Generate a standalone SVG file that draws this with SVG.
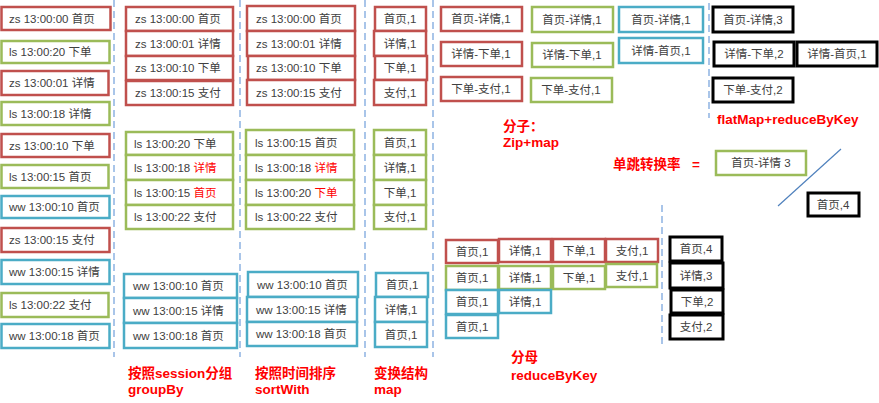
<svg xmlns="http://www.w3.org/2000/svg" width="879" height="403" viewBox="0 0 879 403">
<style>
rect{fill:#fff;stroke-width:2.5}
.r{stroke:#c0504d}.g{stroke:#9bbb59}.b{stroke:#4bacc6}.k{stroke:#000;stroke-width:3}
text{font-family:"Liberation Sans","Noto Sans CJK SC",sans-serif;font-size:11.5px;fill:#404040}
.m{text-anchor:middle}
.hl{fill:#ff0000}
.lab{fill:#ff0000;font-weight:bold;font-size:13.5px}
.dash{stroke:#8db3e2;stroke-width:1.5;stroke-dasharray:7,4;fill:none}
</style>
<g id="connectors">
<line class="dash" x1="114" y1="0" x2="114" y2="357"/>
<line class="dash" x1="240" y1="0" x2="240" y2="357"/>
<line class="dash" x1="365" y1="0" x2="365" y2="357"/>
<line class="dash" x1="433" y1="0" x2="433" y2="357"/>
<line class="dash" x1="709" y1="3" x2="709" y2="118"/>
<line class="dash" x1="662" y1="205" x2="662" y2="345"/>
<line x1="841" y1="149" x2="778" y2="206" stroke="#4f81bd" stroke-width="1.2"/>
</g>
<!-- column 1 -->
<g id="c1n1"><rect class="r" x="1.5" y="7" width="109" height="23"/><text x="9" y="23">zs 13:00:00 首页</text></g>
<g id="c1n2"><rect class="g" x="1.5" y="41" width="108" height="22"/><text x="9" y="56">ls 13:00:20 下单</text></g>
<g id="c1n3"><rect class="r" x="1.5" y="71" width="107" height="24"/><text x="9" y="87">zs 13:00:01 详情</text></g>
<g id="c1n4"><rect class="g" x="1.5" y="102" width="108" height="23"/><text x="9" y="118">ls 13:00:18 详情</text></g>
<g id="c1n5"><rect class="r" x="1.5" y="134" width="108" height="23"/><text x="9" y="150">zs 13:00:10 下单</text></g>
<g id="c1n6"><rect class="g" x="1.5" y="165" width="107" height="23"/><text x="9" y="181">ls 13:00:15 首页</text></g>
<g id="c1n7"><rect class="b" x="1.5" y="196" width="108" height="22"/><text x="9" y="211">ww 13:00:10 首页</text></g>
<g id="c1n8"><rect class="r" x="1.5" y="228" width="108" height="24"/><text x="9" y="244">zs 13:00:15 支付</text></g>
<g id="c1n9"><rect class="b" x="1.5" y="260" width="108" height="24"/><text x="9" y="276">ww 13:00:15 详情</text></g>
<g id="c1n10"><rect class="g" x="1.5" y="293" width="107" height="24"/><text x="9" y="309">ls 13:00:22 支付</text></g>
<g id="c1n11"><rect class="b" x="1.5" y="324" width="108" height="24"/><text x="9" y="340">ww 13:00:18 首页</text></g>
<!-- column 2 -->
<g id="c2n1"><rect class="r" x="126" y="7" width="107" height="24"/><text x="135" y="23">zs 13:00:00 首页</text></g>
<g id="c2n2"><rect class="r" x="126" y="31" width="107" height="25"/><text x="135" y="48">zs 13:00:01 详情</text></g>
<g id="c2n3"><rect class="r" x="126" y="56" width="107" height="24"/><text x="135" y="72">zs 13:00:10 下单</text></g>
<g id="c2n4"><rect class="r" x="126" y="81" width="107" height="24"/><text x="135" y="97">zs 13:00:15 支付</text></g>
<g id="c2n5"><rect class="g" x="126" y="132" width="107" height="23"/><text x="134" y="148">ls 13:00:20 下单</text></g>
<g id="c2n6"><rect class="g" x="126" y="155" width="107" height="25"/><text x="134" y="172">ls 13:00:18 <tspan class="hl">详情</tspan></text></g>
<g id="c2n7"><rect class="g" x="126" y="180" width="107" height="25"/><text x="134" y="197">ls 13:00:15 <tspan class="hl">首页</tspan></text></g>
<g id="c2n8"><rect class="g" x="126" y="205" width="107" height="24"/><text x="134" y="221">ls 13:00:22 支付</text></g>
<g id="c2n9"><rect class="b" x="124" y="274" width="113" height="24"/><text x="133" y="290">ww 13:00:10 首页</text></g>
<g id="c2n10"><rect class="b" x="124" y="298" width="113" height="25"/><text x="133" y="315">ww 13:00:15 详情</text></g>
<g id="c2n11"><rect class="b" x="124" y="323" width="113" height="25"/><text x="133" y="340">ww 13:00:18 首页</text></g>
<!-- column 3 -->
<g id="c3n1"><rect class="r" x="247" y="6" width="108" height="25"/><text x="256" y="23">zs 13:00:00 首页</text></g>
<g id="c3n2"><rect class="r" x="247" y="31" width="108" height="25"/><text x="256" y="48">zs 13:00:01 详情</text></g>
<g id="c3n3"><rect class="r" x="248" y="56" width="107" height="24"/><text x="256" y="72">zs 13:00:10 下单</text></g>
<g id="c3n4"><rect class="r" x="247" y="80" width="108" height="25"/><text x="256" y="97">zs 13:00:15 支付</text></g>
<g id="c3n5"><rect class="g" x="246" y="130" width="108" height="25"/><text x="255" y="147">ls 13:00:15 首页</text></g>
<g id="c3n6"><rect class="g" x="246" y="155" width="108" height="25"/><text x="255" y="172">ls 13:00:18 <tspan class="hl">详情</tspan></text></g>
<g id="c3n7"><rect class="g" x="246" y="180" width="108" height="25"/><text x="255" y="197">ls 13:00:20 <tspan class="hl">下单</tspan></text></g>
<g id="c3n8"><rect class="g" x="246" y="205" width="108" height="24"/><text x="255" y="221">ls 13:00:22 支付</text></g>
<g id="c3n9"><rect class="b" x="248" y="272" width="110" height="25"/><text x="257" y="289">ww 13:00:10 首页</text></g>
<g id="c3n10"><rect class="b" x="247" y="297" width="110" height="25"/><text x="256" y="314">ww 13:00:15 详情</text></g>
<g id="c3n11"><rect class="b" x="247" y="322" width="110" height="24"/><text x="256" y="338">ww 13:00:18 首页</text></g>
<!-- column 4 -->
<g id="c4n1"><rect class="r" x="375" y="7" width="51" height="24"/><text class="m" x="400" y="23">首页,1</text></g>
<g id="c4n2"><rect class="r" x="374" y="31" width="52" height="25"/><text class="m" x="400" y="48">详情,1</text></g>
<g id="c4n3"><rect class="r" x="375" y="56" width="52" height="24"/><text class="m" x="400" y="72">下单,1</text></g>
<g id="c4n4"><rect class="r" x="374" y="80" width="52" height="25"/><text class="m" x="400" y="97">支付,1</text></g>
<g id="c4n5"><rect class="g" x="374" y="130" width="52" height="25"/><text class="m" x="400" y="147">首页,1</text></g>
<g id="c4n6"><rect class="g" x="374" y="155" width="52" height="25"/><text class="m" x="400" y="172">详情,1</text></g>
<g id="c4n7"><rect class="g" x="374" y="180" width="52" height="25"/><text class="m" x="400" y="197">下单,1</text></g>
<g id="c4n8"><rect class="g" x="374" y="205" width="52" height="24"/><text class="m" x="400" y="221">支付,1</text></g>
<g id="c4n9"><rect class="b" x="376" y="273" width="52" height="24"/><text class="m" x="402" y="289">首页,1</text></g>
<g id="c4n10"><rect class="b" x="375" y="297" width="52" height="25"/><text class="m" x="401" y="314">详情,1</text></g>
<g id="c4n11"><rect class="b" x="375" y="322" width="52" height="25"/><text class="m" x="401" y="339">首页,1</text></g>
<!-- numerator pairs -->
<g id="p1"><rect class="r" x="441" y="7" width="81" height="24"/><text class="m" x="481" y="23">首页-详情,1</text></g>
<g id="p2"><rect class="r" x="441" y="42" width="81" height="24"/><text class="m" x="481" y="58">详情-下单,1</text></g>
<g id="p3"><rect class="r" x="441" y="77" width="81" height="24"/><text class="m" x="481" y="93">下单-支付,1</text></g>
<g id="p4"><rect class="g" x="532" y="7" width="81" height="25"/><text class="m" x="572" y="24">首页-详情,1</text></g>
<g id="p5"><rect class="g" x="532" y="43" width="81" height="24"/><text class="m" x="572" y="59">详情-下单,1</text></g>
<g id="p6"><rect class="g" x="531" y="78" width="81" height="24"/><text class="m" x="571" y="94">下单-支付,1</text></g>
<g id="p7"><rect class="b" x="619" y="7" width="84" height="25"/><text class="m" x="661" y="24">首页-详情,1</text></g>
<g id="p8"><rect class="b" x="619" y="38" width="84" height="25"/><text class="m" x="661" y="55">详情-首页,1</text></g>
<!-- reduced pairs -->
<g id="q1"><rect class="k" x="713" y="7" width="80" height="25"/><text class="m" x="753" y="24">首页-详情,3</text></g>
<g id="q2"><rect class="k" x="714" y="42" width="80" height="24"/><text class="m" x="754" y="58">详情-下单,2</text></g>
<g id="q3"><rect class="k" x="797" y="42" width="80" height="24"/><text class="m" x="837" y="58">详情-首页,1</text></g>
<g id="q4"><rect class="k" x="713" y="78" width="80" height="24"/><text class="m" x="753" y="94">下单-支付,2</text></g>
<!-- ratio -->
<g id="ratio-num"><rect class="g" x="716" y="151" width="90" height="24"/><text class="m" x="761" y="167">首页-详情 3</text></g>
<g id="ratio-den"><rect class="k" x="808" y="193" width="51" height="23"/><text class="m" x="833" y="209">首页,4</text></g>
<!-- denominator -->
<g id="d1"><rect class="r" x="446" y="240" width="52" height="23"/><text class="m" x="472" y="256">首页,1</text></g>
<g id="d2"><rect class="r" x="499" y="239" width="52" height="23"/><text class="m" x="525" y="255">详情,1</text></g>
<g id="d3"><rect class="r" x="553" y="239" width="52" height="23"/><text class="m" x="579" y="255">下单,1</text></g>
<g id="d4"><rect class="r" x="606" y="239" width="52" height="23"/><text class="m" x="632" y="255">支付,1</text></g>
<g id="d5"><rect class="g" x="446" y="266" width="52" height="24"/><text class="m" x="472" y="282">首页,1</text></g>
<g id="d6"><rect class="g" x="499" y="266" width="52" height="23"/><text class="m" x="525" y="282">详情,1</text></g>
<g id="d7"><rect class="g" x="553" y="266" width="52" height="23"/><text class="m" x="579" y="282">下单,1</text></g>
<g id="d8"><rect class="g" x="606" y="264" width="51" height="23"/><text class="m" x="632" y="280">支付,1</text></g>
<g id="d9"><rect class="b" x="446" y="290" width="52" height="24"/><text class="m" x="472" y="306">首页,1</text></g>
<g id="d10"><rect class="b" x="499" y="290" width="52" height="23"/><text class="m" x="525" y="306">详情,1</text></g>
<g id="d11"><rect class="b" x="446" y="315" width="52" height="23"/><text class="m" x="472" y="331">首页,1</text></g>
<g id="e1"><rect class="k" x="670" y="237" width="52" height="24"/><text class="m" x="696" y="253">首页,4</text></g>
<g id="e2"><rect class="k" x="670" y="263" width="53" height="25"/><text class="m" x="696" y="280">详情,3</text></g>
<g id="e3"><rect class="k" x="671" y="290" width="52" height="23"/><text class="m" x="697" y="306">下单,2</text></g>
<g id="e4"><rect class="k" x="670" y="315" width="53" height="24"/><text class="m" x="696" y="331">支付,2</text></g>
<!-- labels -->
<g id="labels">
<text class="lab" x="128" y="378">按照session分组</text>
<text class="lab" x="128" y="394">groupBy</text>
<text class="lab" x="255" y="378">按照时间排序</text>
<text class="lab" x="255" y="394">sortWith</text>
<text class="lab" x="374" y="378">变换结构</text>
<text class="lab" x="374" y="394">map</text>
<text class="lab" x="503" y="131">分子：</text>
<text class="lab" x="503" y="147">Zip+map</text>
<text class="lab" x="717" y="124">flatMap+reduceByKey</text>
<text class="lab" x="613" y="169">单跳转换率</text>
<text class="lab" x="692" y="169">=</text>
<text class="lab" x="511" y="362">分母</text>
<text class="lab" x="511" y="380">reduceByKey</text>
</g>
</svg>
